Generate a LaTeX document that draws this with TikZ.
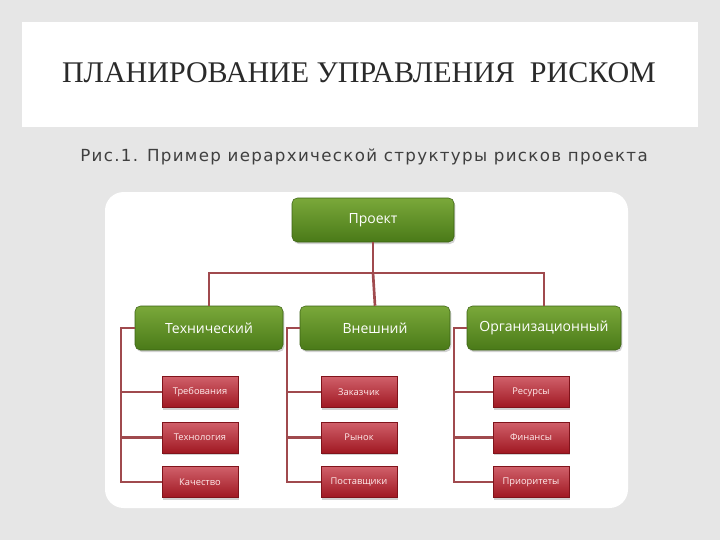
\documentclass[tikz,border=0pt]{standalone}
\usepackage{fontspec}
\setmainfont{Liberation Serif}
\newfontfamily\lab{Open Sans}
\newfontfamily\subf[LetterSpace=8]{DejaVu Sans}
\usetikzlibrary{shadows}
\definecolor{bg}{HTML}{E6E6E6}
\definecolor{ttl}{HTML}{2A2A2A}
\definecolor{gtop}{HTML}{7AA83A}
\definecolor{gbot}{HTML}{4A7A18}
\definecolor{rtop}{HTML}{D0606A}
\definecolor{rbot}{HTML}{A01822}
\definecolor{ln}{HTML}{A04A4E}
\tikzset{
 gbox/.style={rounded corners=4pt, top color=gtop, bottom color=gbot, draw=gbot!80!black, line width=0.4pt,
   drop shadow={shadow xshift=1pt,shadow yshift=-1.5pt,opacity=0.35}, text=white, font=\lab\fontsize{10.5}{12}\selectfont, inner sep=0pt},
 rbox/.style={top color=rtop, bottom color=rbot, draw=rbot!80!black, line width=0.4pt,
   drop shadow={shadow xshift=1pt,shadow yshift=-1.5pt,opacity=0.35}, text=white!92!red, font=\lab\fontsize{7}{8}\selectfont, inner sep=0pt},
 conn/.style={draw=ln, line width=2pt},
}
\begin{document}
\begin{tikzpicture}[x=0.75pt,y=-0.75pt]
\fill[bg] (0,0) rectangle (720,540);
\useasboundingbox (0,0) rectangle (720,540);
\fill[white] (22,22) rectangle (698,127);
\node[text=ttl, font=\fontsize{22.5}{26}\selectfont] (title) at (359,73) {ПЛАНИРОВАНИЕ УПРАВЛЕНИЯ\ \ РИСКОМ};
\node[text=ttl!90, font=\subf\fontsize{12.5}{15}\selectfont, anchor=west, inner sep=0pt] (sub) at (80,157) {Рис.1. Пример иерархической структуры рисков проекта};
\fill[white, rounded corners=14pt] (105,192) rectangle (628,508);

\node[gbox, minimum width=162*0.75pt, minimum height=44*0.75pt] (p) at (373,220) {Проект};
\node[gbox, minimum width=148*0.75pt, minimum height=44*0.75pt] (t) at (209,328) {Технический};
\node[gbox, minimum width=150*0.75pt, minimum height=44*0.75pt] (e) at (375,328) {Внешний};
\node[gbox, minimum width=154*0.75pt, minimum height=44*0.75pt] (o) at (544,328) {Организационный};

\foreach \n/\x/\a/\b/\c in {t/200/Требования/Технология/Качество, e/359/Заказчик/Рынок/Поставщики, o/531/Ресурсы/Финансы/Приоритеты}{
  \node[rbox, minimum width=76*0.75pt, minimum height=31*0.75pt] (\n1) at (\x,392) {\a};
  \node[rbox, minimum width=76*0.75pt, minimum height=31*0.75pt] (\n2) at (\x,437.5) {\b};
  \node[rbox, minimum width=76*0.75pt, minimum height=31*0.75pt] (\n3) at (\x,482) {\c};
}
\coordinate (h) at (373,273);
\draw[conn] (p.south) -- (h);
\draw[conn] (t.north) |- (h) -| (o.north);
\draw[conn] (h) -- (e.north);
\foreach \n/\lx in {t/121, e/287, o/454}{
  \coordinate (\n L) at (\lx,328);
  \draw[conn] (\n.west) -- (\n L) |- (\n3.west);
  \draw[conn] (\n L) |- (\n1.west);
  \draw[conn] (\n L) |- (\n2.west);
}
\end{tikzpicture}
\end{document}
